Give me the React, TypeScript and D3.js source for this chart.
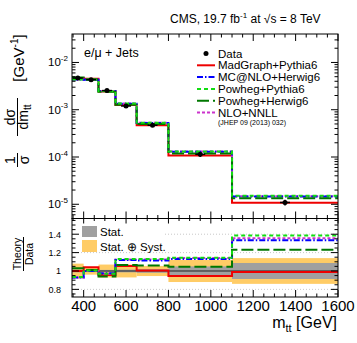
import React from "react";
import * as d3 from "d3";

// m_tt bin edges [GeV] and measured normalized cross section [GeV^-1]
const binEdges = [345, 400, 470, 550, 650, 800, 1100, 1600];
const dataXsec = [4.68e-3, 4.33e-3, 2.54e-3, 1.2e-3, 4.7e-4, 1.14e-4, 1.09e-5];
// relative uncertainties
const statUnc = [0.015, 0.012, 0.012, 0.015, 0.02, 0.05, 0.087];
const totalUnc = [0.08, 0.04, 0.07, 0.07, 0.055, 0.12, 0.14];

// theory / data per bin
const ratioMadGraph = [1.0, 1.04, 0.955, 1.055, 1.005, 0.945, 0.99];
const ratioMcAtNlo = [0.93, 1.0, 0.975, 1.12, 1.115, 1.13, 1.335];
const ratioPowhegPythia = [0.935, 1.005, 0.97, 1.13, 1.13, 1.145, 1.385];
const ratioPowhegHerwig = [1.03, 1.01, 0.94, 1.065, 1.06, 1.045, 1.23];
const ratioNloNnll = [0.93, 1.0, 0.97, 1.125, 1.125, 1.14, 1.355];

const xTickLabels = [400, 600, 800, 1000, 1200, 1400, 1600];
const yTopTickExp = [-5, -4, -3, -2];
const yRatioTicks = [0.8, 1, 1.2, 1.4];

const series = [
  { name: "MadGraph+Pythia6", ratio: ratioMadGraph, color: "#ee0000", dash: "none" },
  { name: "MC@NLO+Herwig6", ratio: ratioMcAtNlo, color: "#0000ff", dash: "6,2,1.5,2" },
  { name: "Powheg+Pythia6", ratio: ratioPowhegPythia, color: "#11dd11", dash: "4,3" },
  { name: "Powheg+Herwig6", ratio: ratioPowhegHerwig, color: "#007700", dash: "12,4" },
  { name: "NLO+NNLL", ratio: ratioNloNnll, color: "#cc33cc", dash: "3,2" },
];
// draw order: red at the bottom
const drawOrder = [0, 4, 1, 3, 2];

const FONT = "Liberation Sans, Arial, Helvetica, sans-serif";
const W = 357, H = 343;
const L = 72, R = 338, T1 = 34, B1 = 218.5, B2 = 297;

export default function App() {
  const x = d3.scaleLinear().domain([345, 1600]).range([L, R]);
  const yTop = d3.scaleLog().domain([5e-6, 0.04]).range([B1, T1]);
  const yRat = d3.scaleLinear().domain([0.717, 1.571]).range([B2, B1]);

  const stepPts = (vals: number[]) =>
    binEdges.map((e, i) => [e, vals[Math.min(i, vals.length - 1)]] as [number, number]);
  const topLine = d3.line<[number, number]>().x(d => x(d[0])).y(d => yTop(d[1])).curve(d3.curveStepAfter);
  const ratLine = d3.line<[number, number]>().x(d => x(d[0])).y(d => yRat(d[1])).curve(d3.curveStepAfter);

  const xMinor = d3.range(350, 1601, 50).filter(v => v % 200 !== 0);
  const yMinor: number[] = [];
  for (let e = -6; e <= -2; e++) for (let k = 2; k <= 9; k++) {
    const v = k * Math.pow(10, e);
    if (v > 5e-6 && v < 0.04) yMinor.push(v);
  }
  const rMinor = d3.range(0.75, 1.56, 0.05).filter(v => !yRatioTicks.some(t => Math.abs(t - v) < 1e-6));

  const tk = { stroke: "#000", strokeWidth: 1 };
  const centers = binEdges.slice(0, -1).map((e, i) => (e + binEdges[i + 1]) / 2);

  const legendY = [53.5, 65.3, 77.1, 88.9, 100.7, 112.5];

  return (
    <svg width={W} height={H} style={{ position: "absolute", left: 0, top: 0, background: "#fff" }} fontFamily={FONT}>
      <rect width={W} height={H} fill="#fff" />
      {/* title */}
      <text x={170} y={23} fontSize={12}>
        CMS, 19.7 fb<tspan fontSize={8} dy={-5}>-1</tspan>
        <tspan dy={5}> at √s = 8 TeV</tspan>
      </text>

      {/* ---------- top panel ---------- */}
      <text x={84} y={57} fontSize={12.5}>e/μ + Jets</text>
      {drawOrder.map(i => {
        const s = series[i];
        const vals = dataXsec.map((d, j) => d * s.ratio[j]);
        return <path key={s.name} d={topLine(stepPts(vals)) || ""} fill="none" stroke={s.color} strokeWidth={2} strokeDasharray={s.dash} />;
      })}
      {dataXsec.map((d, i) => (
        <g key={i}>
          <line x1={x(centers[i]) - 5} x2={x(centers[i]) + 5} y1={yTop(d)} y2={yTop(d)} stroke="#000" strokeWidth={1.5} />
          <line x1={x(centers[i])} x2={x(centers[i])} y1={yTop(d * (1 + totalUnc[i]))} y2={yTop(d * (1 - totalUnc[i]))} stroke="#000" strokeWidth={1.5} />
          <circle cx={x(centers[i])} cy={yTop(d)} r={2.5} fill="#000" />
        </g>
      ))}

      {/* legend */}
      <circle cx={206} cy={legendY[0]} r={2.5} fill="#000" />
      <text x={218} y={legendY[0] + 4.1} fontSize={11.5}>Data</text>
      {series.map((s, i) => (
        <g key={s.name}>
          <line x1={197} x2={215} y1={legendY[i + 1]} y2={legendY[i + 1]} stroke={s.color} strokeWidth={2} strokeDasharray={s.dash} />
          <text x={218} y={legendY[i + 1] + 4.1} fontSize={11.5}>{s.name}</text>
        </g>
      ))}
      <text x={218} y={125} fontSize={7}>(JHEP 09 (2013) 032)</text>

      {/* top frame + ticks */}
      <rect x={L} y={T1} width={R - L} height={B1 - T1} fill="none" stroke="#000" strokeWidth={1} />
      {xTickLabels.map(v => (
        <g key={v}>
          <line x1={x(v)} x2={x(v)} y1={B1} y2={B1 - 7} {...tk} />
          <line x1={x(v)} x2={x(v)} y1={T1} y2={T1 + 7} {...tk} />
        </g>
      ))}
      {xMinor.map(v => (
        <g key={v}>
          <line x1={x(v)} x2={x(v)} y1={B1} y2={B1 - 3.5} {...tk} />
          <line x1={x(v)} x2={x(v)} y1={T1} y2={T1 + 3.5} {...tk} />
        </g>
      ))}
      {yTopTickExp.map(e => {
        const yy = yTop(Math.pow(10, e));
        return (
          <g key={e}>
            <line x1={L} x2={L + 7} y1={yy} y2={yy} {...tk} />
            <line x1={R} x2={R - 7} y1={yy} y2={yy} {...tk} />
            <text x={48} y={yy + 4} fontSize={11.5}>10<tspan fontSize={8} dy={-5.5}>{e}</tspan></text>
          </g>
        );
      })}
      {yMinor.map(v => (
        <g key={v}>
          <line x1={L} x2={L + 3.5} y1={yTop(v)} y2={yTop(v)} {...tk} />
          <line x1={R} x2={R - 3.5} y1={yTop(v)} y2={yTop(v)} {...tk} />
        </g>
      ))}

      {/* top y title */}
      <text transform="translate(15,160) rotate(-90)" textAnchor="middle" fontSize={14}>1</text>
      <line x1={17.5} x2={17.5} y1={153} y2={167} stroke="#000" strokeWidth={1} />
      <text transform="translate(29,160) rotate(-90)" textAnchor="middle" fontSize={14}>σ</text>
      <text transform="translate(15,117) rotate(-90)" textAnchor="middle" fontSize={14}>dσ</text>
      <line x1={17.5} x2={17.5} y1={98} y2={136} stroke="#000" strokeWidth={1} />
      <text transform="translate(28,117) rotate(-90)" textAnchor="middle" fontSize={14}>
        dm<tspan fontSize={10} dy={3}>tt</tspan>
      </text>
      <text transform="translate(24,58) rotate(-90)" textAnchor="middle" fontSize={15}>
        [GeV<tspan fontSize={10} dy={-6}>-1</tspan><tspan dy={6}>]</tspan>
      </text>

      {/* ---------- ratio panel ---------- */}
      {binEdges.slice(0, -1).map((e, i) => (
        <rect key={"o" + i} x={x(e)} width={x(binEdges[i + 1]) - x(e)} y={yRat(1 + totalUnc[i])} height={yRat(1 - totalUnc[i]) - yRat(1 + totalUnc[i])} fill="#ffcc66" />
      ))}
      {binEdges.slice(0, -1).map((e, i) => (
        <rect key={"g" + i} x={x(e)} width={x(binEdges[i + 1]) - x(e)} y={yRat(1 + statUnc[i])} height={yRat(1 - statUnc[i]) - yRat(1 + statUnc[i])} fill="#a0a0a0" />
      ))}
      {[0.8, 1.2, 1.4].map(v => (
        <line key={v} x1={L} x2={R} y1={yRat(v)} y2={yRat(v)} stroke="#c8c8c8" strokeWidth={1} strokeDasharray="1,2" />
      ))}
      <line x1={L} x2={R} y1={yRat(1)} y2={yRat(1)} stroke="#222" strokeWidth={1} />
      {drawOrder.map(i => {
        const s = series[i];
        return <path key={s.name} d={ratLine(stepPts(s.ratio)) || ""} fill="none" stroke={s.color} strokeWidth={2} strokeDasharray={s.dash} />;
      })}

      {/* ratio legend */}
      <rect x={L + 1} y={B1 + 2} width={90} height={29} fill="#fff" />
      <rect x={82} y={226} width={15} height={11} fill="#a0a0a0" />
      <text x={100} y={235.5} fontSize={11.5}>Stat.</text>
      <rect x={82} y={240} width={15} height={12} fill="#ffcc66" />
      <text x={100} y={250.5} fontSize={11.5}>Stat. ⊕ Syst.</text>

      {/* ratio frame + ticks */}
      <rect x={L} y={B1} width={R - L} height={B2 - B1} fill="none" stroke="#000" strokeWidth={1} />
      {xTickLabels.map(v => (
        <g key={v}>
          <line x1={x(v)} x2={x(v)} y1={B2} y2={B2 - 7} {...tk} />
          <line x1={x(v)} x2={x(v)} y1={B1} y2={B1 + 5} {...tk} />
          <text x={x(v)} y={311} textAnchor="middle" fontSize={15}>{v}</text>
        </g>
      ))}
      {xMinor.map(v => (
        <g key={v}>
          <line x1={x(v)} x2={x(v)} y1={B2} y2={B2 - 3.5} {...tk} />
          <line x1={x(v)} x2={x(v)} y1={B1} y2={B1 + 2.5} {...tk} />
        </g>
      ))}
      {yRatioTicks.map(v => (
        <g key={v}>
          <line x1={L} x2={L + 7} y1={yRat(v)} y2={yRat(v)} {...tk} />
          <line x1={R} x2={R - 7} y1={yRat(v)} y2={yRat(v)} {...tk} />
          <text x={61} y={yRat(v) + 3.3} textAnchor="end" fontSize={9}>{v}</text>
        </g>
      ))}
      {rMinor.map(v => (
        <g key={v}>
          <line x1={L} x2={L + 3.5} y1={yRat(v)} y2={yRat(v)} {...tk} />
          <line x1={R} x2={R - 3.5} y1={yRat(v)} y2={yRat(v)} {...tk} />
        </g>
      ))}

      {/* ratio y title */}
      <text transform="translate(21,254) rotate(-90)" textAnchor="middle" fontSize={10.5}>Theory</text>
      <line x1={23.5} x2={23.5} y1={237} y2={271} stroke="#000" strokeWidth={1} />
      <text transform="translate(33,254) rotate(-90)" textAnchor="middle" fontSize={10.5}>Data</text>

      {/* x title */}
      <text x={337} y={328} textAnchor="end" fontSize={16}>
        m<tspan fontSize={11} dy={4}>tt</tspan><tspan dy={-4}> [GeV]</tspan>
      </text>
    </svg>
  );
}
